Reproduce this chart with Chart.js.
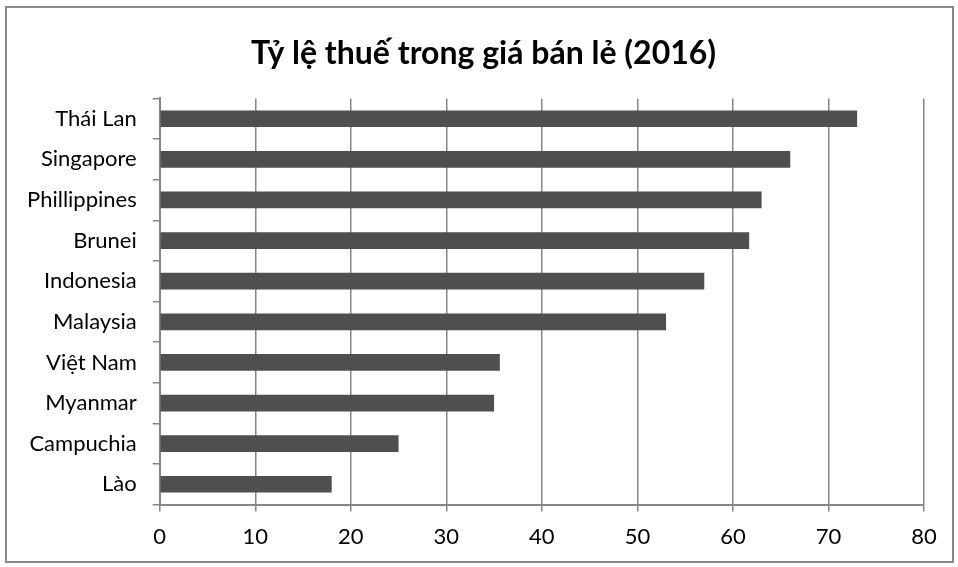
<!DOCTYPE html>
<html>
<head>
<meta charset="utf-8">
<script src="https://cdn.jsdelivr.net/npm/chart.js"></script>
<style>
  body { margin: 0; background: #fff; }
  #frame { position: absolute; left: 5px; top: 6px; width: 945px; height: 553px; border: 2px solid #898989; }
  #wrap { position: absolute; left: 0; top: 0; width: 958px; height: 567px; }
</style>
</head>
<body>
<div id="frame"></div>
<div id="wrap"><canvas id="myChart"></canvas></div>
<script>
var countries = ['Thái Lan', 'Singapore', 'Phillippines', 'Brunei', 'Indonesia', 'Malaysia', 'Việt Nam', 'Myanmar', 'Campuchia', 'Lào']
var taxRate = [73, 66, 63, 61.7, 57, 53, 35.6, 35, 25, 18]
var xTicks = [0, 10, 20, 30, 40, 50, 60, 70, 80]

var fontName = 'Lato, "Noto Sans", sans-serif'
var gridGray = '#868686'

// nudge the title so it sits centred on the frame, not on the padded box
var titleShift = {
    id: 'titleShift',
    afterLayout: function (chart) {
        if (chart.titleBlock) {
            chart.titleBlock.left += 16
            chart.titleBlock.right += 16
        }
    }
}

let ctx = document.getElementById('myChart').getContext('2d');
let myChart = new Chart(ctx, {
    type: 'bar',
    data: {
        labels: countries,
        datasets: [{
            label: 'Tỷ lệ thuế',
            backgroundColor: '#4f4f4f',
            borderColor: '#4f4f4f',
            borderWidth: 0,
            barPercentage: 0.82,
            categoryPercentage: 0.5,
            data: taxRate
        }]
    },
    plugins: [titleShift],
    options: {
        indexAxis: 'y',
        responsive: true,
        maintainAspectRatio: false,
        animation: false,
        layout: { padding: { left: 11, right: 34, top: 0, bottom: 5 } },
        plugins: {
            legend: { display: false },
            tooltip: { enabled: false },
            title: {
                display: true,
                text: 'Tỷ lệ thuế trong giá bán lẻ (2016)',
                color: '#000',
                font: { family: fontName, size: 32, weight: 'bold' },
                padding: { top: 34, bottom: 26 }
            }
        },
        scales: {
            x: {
                min: 0,
                max: 80,
                afterBuildTicks: function (axis) {
                    axis.ticks = xTicks.map(function (v) { return { value: v } })
                },
                grid: { color: gridGray, lineWidth: 1.5, tickLength: 7 },
                border: { color: gridGray, width: 2 },
                ticks: { color: '#000', font: { family: fontName, size: 22 }, padding: 12 }
            },
            y: {
                grid: { drawOnChartArea: false, color: gridGray, lineWidth: 1.5, tickLength: 7, offset: true },
                border: { color: gridGray, width: 2 },
                ticks: { color: '#000', font: { family: fontName, size: 22 }, padding: 16 }
            }
        }
    }
});
</script>
</body>
</html>
